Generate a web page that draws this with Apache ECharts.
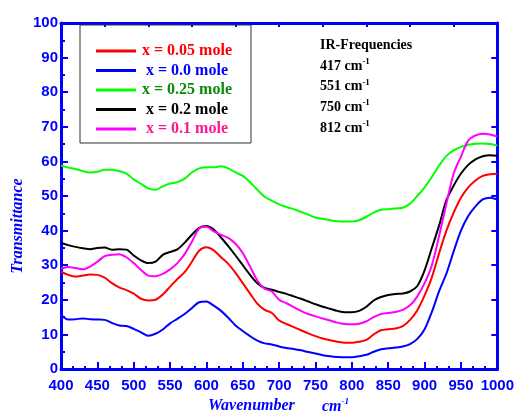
<!DOCTYPE html>
<html>
<head>
<meta charset="utf-8">
<script src="https://cdn.jsdelivr.net/npm/echarts@6/dist/echarts.min.js"></script>
<style>html,body{margin:0;padding:0;background:#fff}#c{width:517px;height:413px}</style>
</head>
<body>
<div id="c"></div>
<script>
// Wavenumber grid (cm^-1)
var wavenumber = [400,410,420,430,440,450,460,470,480,490,500,510,520,530,540,550,560,570,580,590,600,610,620,630,640,650,660,670,680,690,700,710,720,730,740,750,760,770,780,790,800,810,820,830,840,850,860,870,880,890,900,910,920,930,940,950,960,970,980,990,1000];

var x005 = [28.1,27.2,26.7,27.0,27.3,27.2,26.4,24.8,23.6,22.8,21.8,20.3,19.8,20.0,21.5,23.8,26.0,28.0,31.0,34.2,35.2,34.3,32.3,30.4,27.8,24.8,21.8,18.9,17.1,16.2,14.0,13.0,12.1,11.2,10.3,9.5,8.8,8.3,7.9,7.6,7.6,7.9,8.4,10.0,11.2,11.5,11.7,12.4,14.2,17.0,21.3,26.5,33.5,40.0,45.2,49.5,52.5,54.5,55.8,56.3,56.4];
var x000 = [15.6,14.3,14.4,14.6,14.4,14.3,14.2,13.3,12.6,12.4,11.6,10.6,9.6,10.2,11.4,13.2,14.5,15.9,17.6,19.3,19.5,18.3,16.8,14.8,12.6,11.0,9.5,8.2,7.4,7.1,6.5,6.1,5.8,5.4,4.9,4.5,4.0,3.7,3.5,3.4,3.4,3.7,4.1,5.0,5.7,6.0,6.2,6.5,7.2,8.7,11.5,16.5,22.5,27.6,34.0,40.0,44.2,47.0,49.0,49.5,49.0];
var x025 = [58.8,58.2,57.8,57.2,56.8,57.0,57.6,57.6,57.2,56.5,54.8,53.5,52.2,51.8,52.8,53.6,54.0,55.0,56.8,58.0,58.3,58.3,58.6,58.0,56.8,55.8,54.0,51.8,49.8,48.6,47.6,46.8,46.2,45.4,44.6,43.8,43.4,43.0,42.7,42.6,42.6,43.0,44.0,45.2,46.0,46.2,46.4,46.6,47.8,50.0,52.5,55.5,58.8,61.6,63.2,64.2,64.8,65.1,65.2,65.0,64.6];
var x020 = [36.4,35.8,35.3,34.9,34.6,35.0,35.1,34.5,34.6,34.5,32.8,31.4,30.6,31.0,33.0,33.8,34.6,36.5,38.8,40.8,41.3,40.3,38.0,35.5,32.8,30.0,27.2,24.8,23.4,22.9,22.3,21.7,21.0,20.3,19.5,18.7,18.0,17.4,16.8,16.4,16.4,16.8,18.0,19.8,20.8,21.4,21.7,21.8,22.4,24.0,28.5,35.0,41.5,48.8,53.0,56.5,59.0,60.6,61.5,61.8,61.6];
var x010 = [29.0,29.5,29.2,28.8,29.6,31.0,32.6,33.0,33.2,32.3,30.6,28.6,27.0,26.8,27.5,28.8,30.6,33.2,36.8,40.6,41.1,39.8,38.8,37.9,36.2,33.5,29.6,25.6,23.2,22.4,20.0,19.0,17.9,16.8,15.9,15.2,14.6,14.0,13.4,13.0,12.9,13.1,13.8,15.0,15.9,16.2,16.5,17.1,18.4,21.0,24.8,30.0,38.5,47.8,56.5,61.4,66.0,67.5,68.0,67.8,67.2];

var seriesNames = ['x = 0.05 mole','x = 0.0 mole','x = 0.25 mole','x = 0.2 mole','x = 0.1 mole'];
var seriesValues = [x005, x000, x025, x020, x010];
var lineColors = ['#ff0000','#0000ff','#00ff00','#000000','#ff00ff'];
var textColors = ['#ff0000','#0000ff','#0a8a0a','#000000','#ff1493'];
var irTitle = 'IR-Frequencies';
var irFreqs = ['417','551','750','812'];

var BLUE = '#0000ff';
var chart = echarts.init(document.getElementById('c'));

function pairs(vals){ return wavenumber.map(function(w,i){ return [w, vals[i]]; }); }

var series = seriesNames.map(function(n,i){
  return {
    name: n, type: 'line', data: pairs(seriesValues[i]), smooth: 0.3,
    showSymbol: false, symbol: 'none',
    lineStyle: {color: lineColors[i], width: 2}, itemStyle: {color: lineColors[i]},
    z: 3
  };
});

var serifBold = '"Liberation Serif", "Times New Roman", serif';

var graphics = [];
graphics.push({type:'text', x: 320, y: 45, style:{text: irTitle, font: 'bold 14px ' + serifBold, fill:'#000', verticalAlign:'middle'}});
irFreqs.forEach(function(f,i){
  graphics.push({type:'text', x: 320, y: 65 + i*20.7, style:{
    text: '{a|' + f + ' cm}{s|-1}', verticalAlign:'middle',
    rich: {
      a: {fontSize: 14, fontWeight:'bold', fontFamily: serifBold, fill:'#000', lineHeight: 16, verticalAlign:'bottom'},
      s: {fontSize: 9, fontWeight:'bold', fontFamily: serifBold, fill:'#000', lineHeight: 16, verticalAlign:'top'}
    }
  }});
});
graphics.push({type:'text', x: 18, y: 226, rotation: Math.PI/2, style:{text:'Transmittance', font:'italic bold 16px ' + serifBold, fill: BLUE, align:'center', verticalAlign:'middle'}});
graphics.push({type:'text', x: 208, y: 406, style:{text:'Wavenumber', font:'italic bold 16px ' + serifBold, fill: BLUE, verticalAlign:'middle'}});
graphics.push({type:'text', x: 322, y: 406, style:{
  text: '{a|cm}{s|-1}', verticalAlign:'middle',
  rich: {
    a: {fontSize: 16, fontStyle:'italic', fontWeight:'bold', fontFamily: serifBold, fill: BLUE, lineHeight: 18, verticalAlign:'bottom'},
    s: {fontSize: 9, fontStyle:'italic', fontWeight:'bold', fontFamily: serifBold, fill: BLUE, lineHeight: 18, verticalAlign:'top'}
  }
}});

var labelStyle = {color: BLUE, fontWeight:'bold', fontSize: 15, fontFamily: '"Liberation Sans", Arial, sans-serif',
  formatter: function(v){ return String(v); }};

chart.setOption({
  animation: false,
  backgroundColor: '#fff',
  grid: {left: 61, right: 19, top: 23, bottom: 44, containLabel: false},
  legend: {
    orient: 'vertical', left: 80, top: 25,
    padding: [18, 18, 6, 16],
    borderColor: '#333', borderWidth: 1,
    icon: 'rect', itemWidth: 40, itemHeight: 3, itemGap: 3.5,
    data: seriesNames.map(function(n,i){ return {name: n, textStyle: {color: textColors[i]}}; }),
    formatter: '{c|{name}}',
    textStyle: {fontSize: 16, fontWeight: 'bold', fontFamily: serifBold, lineHeight: 14,
      rich: {c: {width: 92, align: 'center', fontSize: 16, fontWeight: 'bold', fontFamily: serifBold, lineHeight: 14}}}
  },
  xAxis: [{
    type: 'value', min: 400, max: 1000, interval: 50, position: 'bottom',
    axisLine: {show: true, onZero: false, lineStyle: {color: BLUE, width: 3}},
    axisTick: {show: true, inside: true, length: 7, lineStyle: {color: BLUE, width: 2}},
    minorTick: {show: true, splitNumber: 3, length: 3, lineStyle: {color: BLUE, width: 2}},
    axisLabel: Object.assign({margin: 9}, labelStyle),
    splitLine: {show: false}
  }, {
    type: 'value', min: 400, max: 1000, interval: 60, position: 'top',
    axisLine: {show: true, onZero: false, lineStyle: {color: BLUE, width: 3}},
    axisTick: {show: true, inside: true, length: 4, lineStyle: {color: BLUE, width: 2}},
    axisLabel: {show: false}, splitLine: {show: false}
  }],
  yAxis: [{
    type: 'value', min: 0, max: 100, interval: 10, position: 'left',
    axisLine: {show: true, onZero: false, lineStyle: {color: BLUE, width: 3}},
    axisTick: {show: true, inside: true, length: 7, lineStyle: {color: BLUE, width: 2}},
    minorTick: {show: true, splitNumber: 2, length: 4, lineStyle: {color: BLUE, width: 2}},
    axisLabel: Object.assign({margin: 3}, labelStyle),
    splitLine: {show: false}
  }, {
    type: 'value', min: 0, max: 100, interval: 10, position: 'right',
    axisLine: {show: true, onZero: false, lineStyle: {color: BLUE, width: 3}},
    axisTick: {show: true, inside: true, length: 6, lineStyle: {color: BLUE, width: 2}},
    axisLabel: {show: false}, splitLine: {show: false}
  }],
  series: series,
  graphic: graphics
});
</script>
</body>
</html>
